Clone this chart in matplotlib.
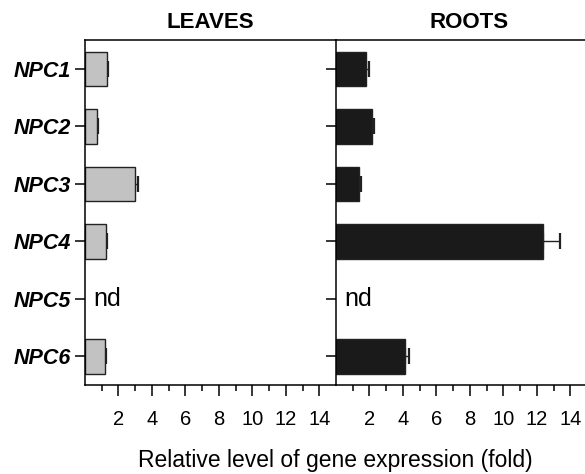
import numpy as np
import matplotlib
matplotlib.use("Agg")
import matplotlib.pyplot as plt
from matplotlib.ticker import FixedLocator, FuncFormatter

plt.rcParams['font.family'] = ['Liberation Sans', 'DejaVu Sans']

genes = ['NPC1', 'NPC2', 'NPC3', 'NPC4', 'NPC5', 'NPC6']
# nan = not detected (nd)
leaves = [1.3, 0.7, 3.0, 1.25, np.nan, 1.2]
leaves_err = [0.1, 0.05, 0.15, 0.07, np.nan, 0.06]
roots = [1.8, 2.15, 1.4, 12.35, np.nan, 4.15]
roots_err = [0.15, 0.15, 0.1, 1.05, np.nan, 0.2]

W, H = 585, 474
fig = plt.figure(figsize=(W / 100, H / 100), dpi=100)

x0, x1 = 85, 336
ytop, ybot = 40, 385
axw = (x1 - x0) / W
ax_l = fig.add_axes([x0 / W, 1 - ybot / H, axw, (ybot - ytop) / H])
ax_r = fig.add_axes([x1 / W, 1 - ybot / H, axw, (ybot - ytop) / H])

ypos = np.arange(len(genes))


def panel(ax, vals, errs, color, title):
	vals = np.array(vals)
	errs = np.array(errs)
	ok = ~np.isnan(vals)
	ax.barh(ypos[ok], vals[ok], height=0.6, color=color, edgecolor='#222222',
			linewidth=1.0, zorder=2)
	ax.errorbar(vals[ok], ypos[ok], xerr=[np.zeros(ok.sum()), errs[ok]],
				fmt='none', ecolor='#222222', elinewidth=1.0, capsize=6,
				capthick=1.6, zorder=1)
	for i in ypos[~ok]:
		ax.text(0.5, i, 'nd', fontsize=18, va='center', ha='left')
	ax.set_xlim(0, 15)
	ax.set_ylim(5.5, -0.5)
	ax.set_yticks(ypos)
	ax.xaxis.set_major_locator(FixedLocator(np.arange(2, 15, 2)))
	ax.xaxis.set_minor_locator(FixedLocator(np.arange(1, 15, 2)))
	ax.xaxis.set_major_formatter(FuncFormatter(lambda v, p: '%d' % v))
	ax.tick_params(axis='x', which='major', length=8, width=1.1, labelsize=14.5, pad=10)
	ax.tick_params(axis='x', which='minor', length=4.5, width=1.1)
	ax.tick_params(axis='y', length=7, width=1.1, pad=3)
	ax.spines['right'].set_visible(False)
	for s in ['left', 'top', 'bottom']:
		ax.spines[s].set_linewidth(1.1)
	ax.set_title(title, fontsize=16, fontweight='bold', pad=9)


panel(ax_l, leaves, leaves_err, '#c2c2c2', 'LEAVES')
panel(ax_r, roots, roots_err, '#1a1a1a', 'ROOTS')

ax_l.set_yticklabels(genes, fontsize=15.5, fontweight='bold', style='italic')
ax_r.set_yticklabels([])
ax_r.title.set_position((0.53, 1.0))

fig.text(335 / W, 1 - 460 / H, 'Relative level of gene expression (fold)',
		 fontsize=16.5, ha='center', va='center')

fig.savefig('out.png', dpi=100)
